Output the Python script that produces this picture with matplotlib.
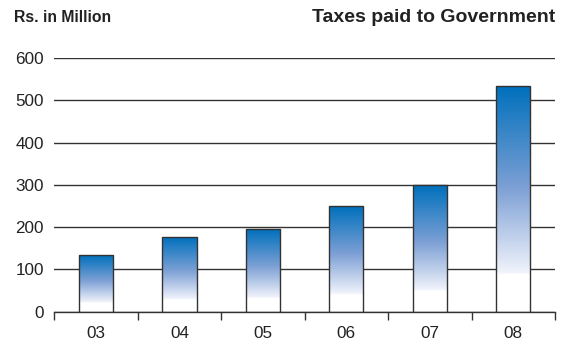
import numpy as np
import matplotlib
matplotlib.use("Agg")
import matplotlib.pyplot as plt
from matplotlib.colors import LinearSegmentedColormap

years = ["03", "04", "05", "06", "07", "08"]
taxes = [133, 177, 196, 250, 299, 533]
yticks = [0, 100, 200, 300, 400, 500, 600]

plt.rcParams['font.family'] = ['Liberation Sans', 'DejaVu Sans']

W, H = 565, 342
fig = plt.figure(figsize=(W / 100, H / 100), dpi=100)
ax = fig.add_axes([54.3 / W, (H - 311.7) / H, (555 - 54.3) / W, (311.7 - 58) / H])

cmap = LinearSegmentedColormap.from_list(
    "grad",
    [(0.0, (1, 1, 1)), (0.165, (1, 1, 1)), (0.175, (240/255, 243/255, 251/255)),
     (0.55, (125/255, 160/255, 213/255)), (1.0, (0/255, 112/255, 188/255))])

x = np.arange(len(years))
width = 0.41
bars = ax.bar(x, taxes, width=width, facecolor="none", edgecolor="#333333",
              linewidth=1.0, zorder=3)
grad = np.linspace(0, 1, 256).reshape(-1, 1)
for b in bars:
    x0, y0 = b.get_x(), b.get_y()
    w, h = b.get_width(), b.get_height()
    im = ax.imshow(grad, cmap=cmap, origin="lower", aspect="auto",
                   extent=[x0, x0 + w, y0, y0 + h], zorder=2,
                   interpolation="bilinear")
    im.set_clip_path(b)

ax.set_xlim(-0.5, len(years) - 0.5)
ax.set_ylim(0, 600)
ax.set_yticks(yticks)
ax.set_yticklabels([str(v) for v in yticks], fontsize=12.3, color="#222222")
ax.tick_params(axis="y", length=0, pad=7.5)
ax.yaxis.grid(True, color="#333333", linewidth=1.0, zorder=1)
ax.set_axisbelow(True)

ax.set_xticks(x)
ax.set_xticklabels(years, fontsize=12.3, color="#222222")
ax.tick_params(axis="x", which="major", length=0, pad=10)
ax.set_xticks(np.arange(-0.5, len(years), 1.0), minor=True)
ax.tick_params(axis="x", which="minor", length=6, width=1.0, color="#333333", direction="out")

for s in ["left", "right", "top"]:
    ax.spines[s].set_visible(False)
ax.spines["bottom"].set_color("#333333")
ax.spines["bottom"].set_linewidth(1.0)

fig.text(14 / W, 1 - 18 / H, "Rs. in Million", fontsize=11.3, fontweight="bold",
         color="#222222", ha="left", va="center")
fig.text(555 / W, 1 - 18 / H, "Taxes paid to Government", fontsize=14, fontweight="bold",
         color="#222222", ha="right", va="center")

fig.savefig("out.png", dpi=100)
